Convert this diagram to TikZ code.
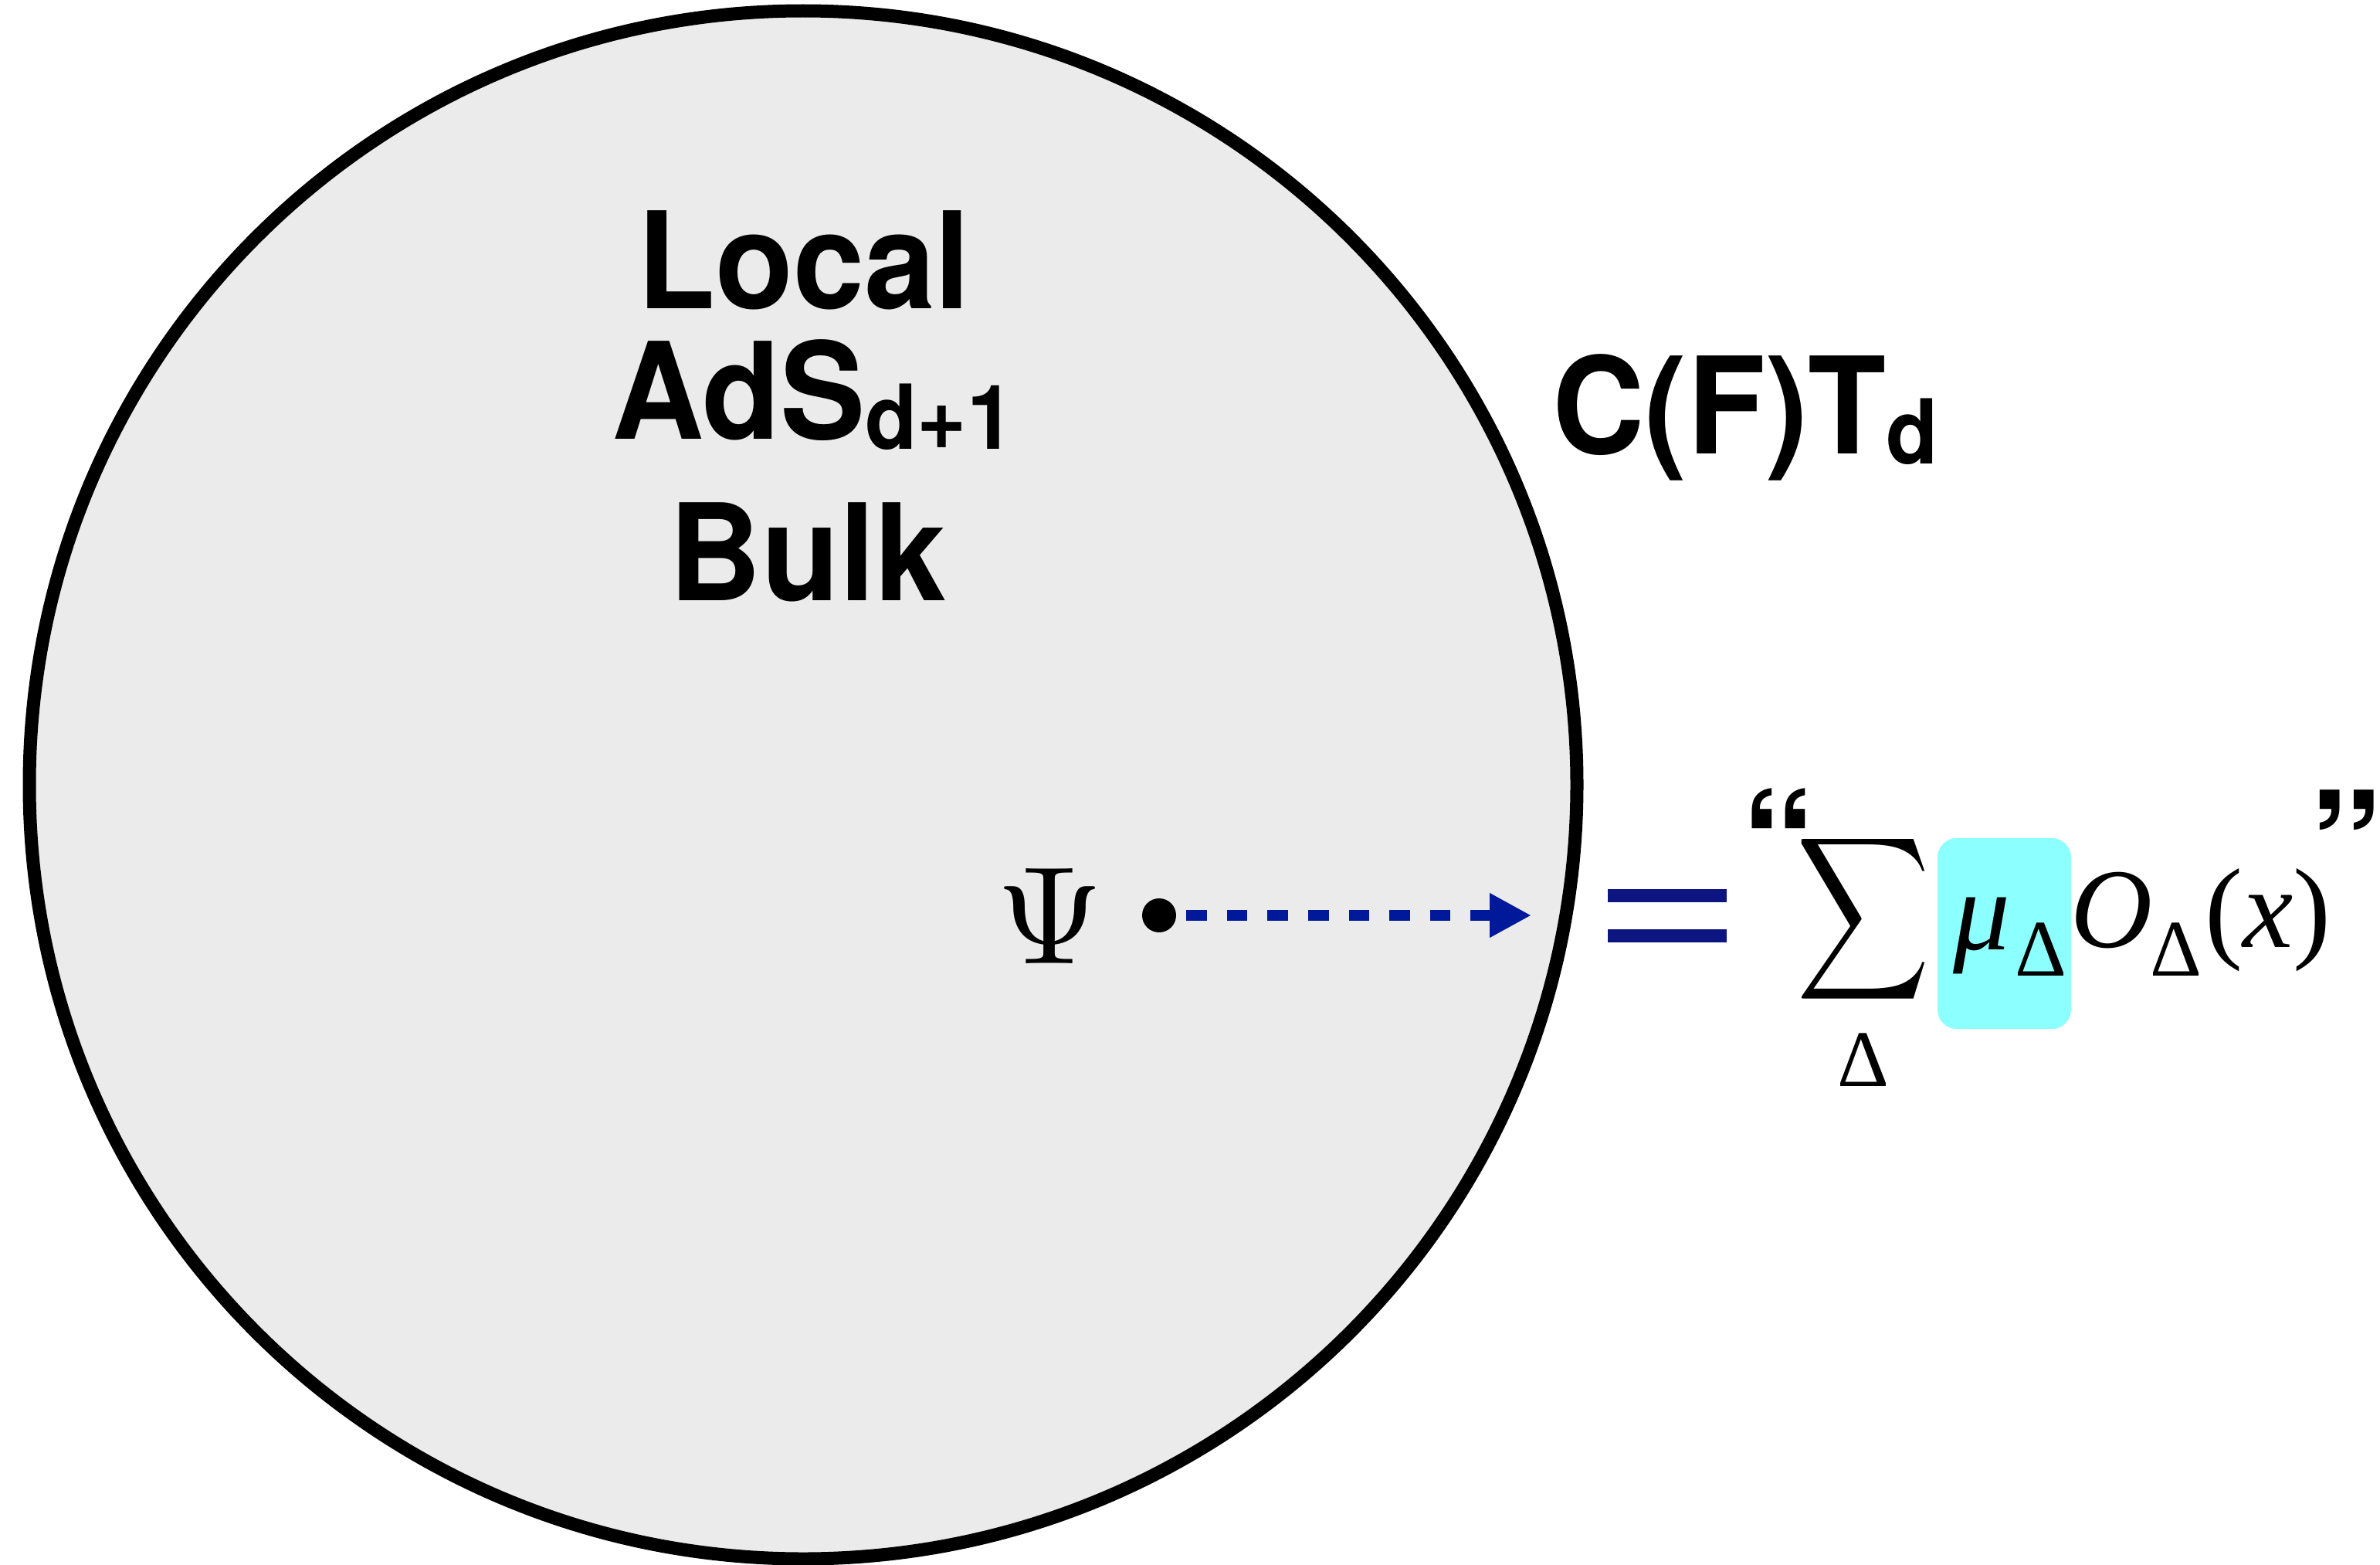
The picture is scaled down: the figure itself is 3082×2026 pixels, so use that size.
\documentclass[tikz,border=0pt]{standalone}
\usepackage{fontspec}
\usepackage{graphicx}
\usetikzlibrary{arrows.meta}
\newfontfamily\hv[FakeStretch=0.95]{TeX Gyre Heros}
\newfontfamily\tms{Liberation Serif}
\definecolor{bulkgray}{HTML}{EBEBEB}
\definecolor{hlcyan}{HTML}{8CFFFF}
\definecolor{arrowblue}{HTML}{00199A}
\definecolor{eqblue}{HTML}{0D1580}
\newcommand{\tightq}[1]{\raisebox{-94pt}[52pt][0pt]{#1}}
\begin{document}
\begin{tikzpicture}[x=1pt,y=-1pt,
  bigtxt/.style={inner sep=0pt, anchor=base, font=\hv\bfseries\fontsize{174}{200}\selectfont},
  quotetxt/.style={inner sep=0pt, anchor=base, font=\hv\bfseries\fontsize{200}{220}\selectfont},
  mathtxt/.style={inner sep=0pt, anchor=base, font=\tms\fontsize{147}{170}\selectfont},
  subtxt/.style={inner sep=0pt, anchor=base, font=\tms\fontsize{104}{120}\selectfont},
  eqbar/.style={fill=eqblue}]
\useasboundingbox (0,0) rectangle (3082,2026);
% bulk disc
\draw[line width=17pt, fill=bulkgray] (1040,1016) circle[radius=1002pt];
% labels
\node[bigtxt] (local) at (1041,399) {Local};
\node[bigtxt] (ads) at (1053,568) {AdS\raisebox{-13pt}{\fontsize{116}{116}\selectfont d+1}};
\node[bigtxt] (bulk) at (1046,777) {Bulk};
\node[bigtxt] (cft) at (2260,587) {C(F)T\raisebox{-13pt}{\fontsize{116}{116}\selectfont d}};
% psi and point
\node[inner sep=0pt, anchor=base] (psi) at (1360,1247) {\resizebox{138pt}{123pt}{$\Psi$}};
\node[circle, fill=black, minimum size=44pt, inner sep=0pt] (dot) at (1501,1185) {};
\coordinate (tip) at (1983,1185);
\draw[arrowblue, line width=13.3pt, dash pattern=on 26.5pt off 26.1pt, shorten <=13pt,
  -{Triangle[length=54pt, width=54pt]}] (dot) -- (tip);
% equals sign
\fill[eqbar] (2082,1151) rectangle (2236,1168);
\fill[eqbar] (2082,1203) rectangle (2236,1220);
% formula
\node[quotetxt] (lq) at (2303,1072) {\tightq{“}};
\node[inner sep=0pt, anchor=north west] (sum) at (2326.5,1072) {\resizebox{173pt}{155pt}{$\displaystyle\sum$}};
\node[subtxt] (dsum) at (2413,1406) {Δ};
\node[fill=hlcyan, rounded corners=25pt, minimum width=173pt, minimum height=247pt, inner sep=0pt] (hl) at (2595.5,1208.5) {};
\node[mathtxt] (mu) at (2566,1229) {\itshape μ};
\node[subtxt] (dmu) at (2643,1263) {Δ};
\node[mathtxt] (op) at (2735,1226) {\itshape O};
\node[subtxt] (dop) at (2818,1263) {Δ};
\node[mathtxt] (arg) at (2937,1226) {(\textit{x\/})};
\node[quotetxt] (rq) at (3038,1074) {\tightq{”}};
\end{tikzpicture}
\end{document}
